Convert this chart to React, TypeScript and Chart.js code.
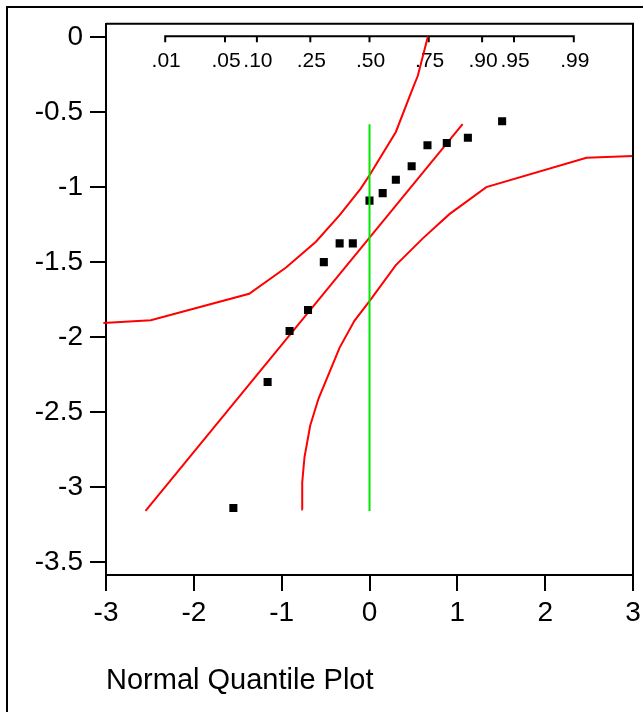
import React, { useEffect, useRef } from 'react';
import { Chart, registerables } from 'chart.js';

Chart.register(...registerables);

const FONT = '"Liberation Sans", Arial, Helvetica, sans-serif';

// Observed data: normal quantile (x) vs value (y)
const quantiles = [-1.55, -1.16, -0.91, -0.7, -0.52, -0.34, -0.19, 0.0, 0.15, 0.3, 0.48, 0.66, 0.88, 1.12, 1.51];
const values = [-3.14, -2.3, -1.96, -1.82, -1.5, -1.375, -1.375, -1.09, -1.04, -0.95, -0.86, -0.72, -0.705, -0.67, -0.56];

// Fitted line
const fitX = [-2.55, 1.06];
const fitY = [-3.16, -0.58];

// Green reference line
const refX = [0, 0];
const refY = [-0.58, -3.16];

// Upper confidence curve
const upperX = [-3.03, -2.49, -1.37, -0.95, -0.61, -0.34, -0.1, 0.0, 0.3, 0.49, 0.55, 0.665];
const upperY = [-1.906, -1.888, -1.711, -1.536, -1.364, -1.187, -1.01, -0.921, -0.632, -0.345, -0.257, 0.005];

// Lower confidence curve
const lowerX = [-0.76, -0.766, -0.74, -0.675, -0.58, -0.34, -0.17, 0.0, 0.3, 0.61, 0.91, 1.33, 2.47, 3.0];
const lowerY = [-3.15, -2.97, -2.8, -2.59, -2.41, -2.07, -1.89, -1.76, -1.52, -1.34, -1.18, -1.0, -0.804, -0.793];

// Top probability axis
const probLabels = ['.01', '.05', '.10', '.25', '.50', '.75', '.90', '.95', '.99'];
const probQuantiles = [-2.326, -1.645, -1.282, -0.674, 0, 0.674, 1.282, 1.645, 2.326];

// Axis ticks
const xTicks = [-3, -2, -1, 0, 1, 2, 3];
const yTicks = [0, -0.5, -1, -1.5, -2, -2.5, -3, -3.5];
const plotTitle = 'Normal Quantile Plot';

const toPts = (xs: number[], ys: number[]) => xs.map((x, i) => ({ x, y: ys[i] }));

const topAxisPlugin = {
  id: 'topAxis',
  beforeDatasetsDraw(chart: any) {
    const { ctx, chartArea: a, scales } = chart;
    const x = scales.x;
    const yLine = a.top + 12.5;
    ctx.save();
    ctx.strokeStyle = '#000';
    ctx.lineWidth = 2;
    ctx.beginPath();
    const x0 = x.getPixelForValue(probQuantiles[0]);
    const x1 = x.getPixelForValue(probQuantiles[probQuantiles.length - 1]);
    ctx.moveTo(x0 - 1, yLine);
    ctx.lineTo(x1 + 1, yLine);
    probQuantiles.forEach((q) => {
      const px = x.getPixelForValue(q);
      ctx.moveTo(px, yLine);
      ctx.lineTo(px, yLine + 6);
    });
    ctx.stroke();
    ctx.fillStyle = '#000';
    ctx.font = `21px ${FONT}`;
    ctx.textAlign = 'center';
    ctx.textBaseline = 'middle';
    probLabels.forEach((l, i) => {
      ctx.fillText(l, x.getPixelForValue(probQuantiles[i]) + 1, yLine + 25);
    });
    ctx.restore();
  },
  afterDatasetsDraw(chart: any) {
    const { ctx, chartArea: a } = chart;
    ctx.save();
    ctx.strokeStyle = '#000';
    ctx.lineWidth = 2;
    ctx.beginPath();
    ctx.moveTo(a.left, a.top);
    ctx.lineTo(a.right, a.top);
    ctx.lineTo(a.right, a.bottom);
    ctx.stroke();
    ctx.restore();
  },
};

export default function App() {
  const ref = useRef<HTMLCanvasElement | null>(null);

  useEffect(() => {
    if (!ref.current) return;
    const lineDs = (data: any[], color: string, extra: any = {}) => ({
      type: 'scatter',
      data,
      showLine: true,
      borderColor: color,
      backgroundColor: color,
      borderWidth: 2,
      pointRadius: 0,
      pointHoverRadius: 0,
      tension: 0,
      ...extra,
    });
    const chart = new Chart(ref.current, {
      type: 'scatter',
      data: {
        datasets: [
          lineDs(toPts(refX, refY), 'rgb(0,230,0)'),
          {
            type: 'scatter',
            data: toPts(quantiles, values),
            pointStyle: 'rect',
            pointRadius: 5.7,
            pointBorderWidth: 0,
            backgroundColor: '#000',
            borderColor: '#000',
          } as any,
          lineDs(toPts(fitX, fitY), '#ff0000'),
          lineDs(toPts(upperX, upperY), '#ff0000', { clip: false }),
          lineDs(toPts(lowerX, lowerY), '#ff0000'),
        ],
      },
      options: {
        animation: false,
        responsive: false,
        devicePixelRatio: 1,
        layout: { padding: { top: 21, right: 10, bottom: 0, left: 0 } },
        plugins: { legend: { display: false }, tooltip: { enabled: false } },
        scales: {
          x: {
            type: 'linear',
            min: -3,
            max: 3,
            afterBuildTicks: (s: any) => {
              s.ticks = xTicks.map((v) => ({ value: v }));
            },
            afterFit: (s: any) => {
              s.height = 137;
              s.paddingRight = 0;
              s.paddingLeft = 0;
            },
            grid: { drawOnChartArea: false, drawTicks: true, tickLength: 16, color: '#000', lineWidth: 2 },
            border: { display: true, color: '#000', width: 2 },
            ticks: {
              padding: 5,
              color: '#000',
              font: { family: FONT, size: 28 },
              maxRotation: 0,
              autoSkip: false,
              callback: (v: any) => `${Math.round(Number(v))}`,
            },
            title: {
              display: true,
              text: plotTitle,
              align: 'start',
              color: '#000',
              font: { family: FONT, size: 29 },
              padding: { top: 0, bottom: 14 },
            },
          },
          y: {
            type: 'linear',
            min: -3.587,
            max: 0.0896,
            afterBuildTicks: (s: any) => {
              s.ticks = yTicks.map((v) => ({ value: v }));
            },
            afterFit: (s: any) => {
              s.width = 106;
            },
            grid: { drawOnChartArea: false, drawTicks: true, tickLength: 16, color: '#000', lineWidth: 2 },
            border: { display: true, color: '#000', width: 2 },
            ticks: {
              padding: 7,
              color: '#000',
              font: { family: FONT, size: 28 },
              autoSkip: false,
              callback: (v: any) => {
                const n = Math.round(Number(v) * 100) / 100;
                return n === 0 ? '0' : `${n}`;
              },
            },
          },
        },
      } as any,
      plugins: [topAxisPlugin],
    });
    return () => chart.destroy();
  }, []);

  return (
    <div
      style={{
        position: 'fixed',
        left: 0,
        top: 0,
        width: 643,
        height: 712,
        overflow: 'hidden',
        background: '#fff',
      }}
    >
      <div
        style={{
          position: 'absolute',
          left: 6,
          top: 6,
          width: 800,
          height: 900,
          borderLeft: '2px solid #000',
          borderTop: '2px solid #000',
        }}
      />
      <canvas
        ref={ref}
        width={643}
        height={712}
        style={{ position: 'absolute', left: 0, top: 0, width: 643, height: 712 }}
      />
    </div>
  );
}
